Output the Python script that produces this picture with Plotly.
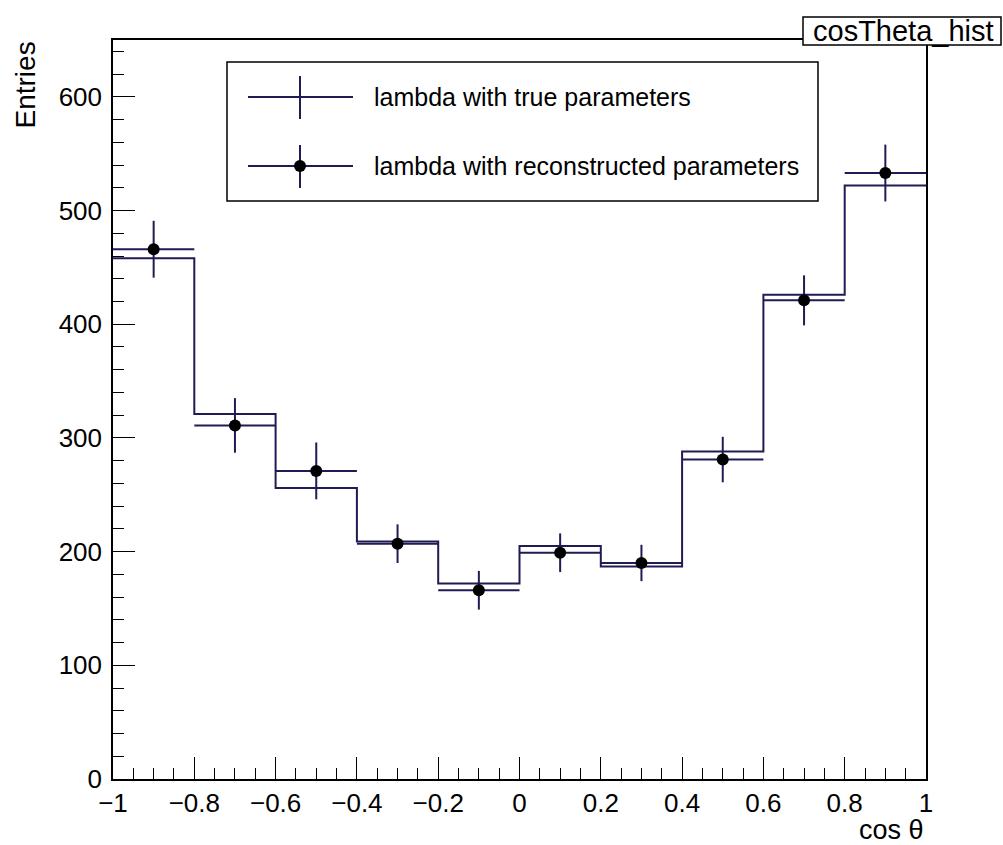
import plotly.graph_objects as go

# ---- data ----
bin_edges = [-1.0, -0.8, -0.6, -0.4, -0.2, 0.0, 0.2, 0.4, 0.6, 0.8, 1.0]
bin_centers = [-0.9, -0.7, -0.5, -0.3, -0.1, 0.1, 0.3, 0.5, 0.7, 0.9]
bin_half_widths = [0.1, 0.1, 0.1, 0.1, 0.1, 0.1, 0.1, 0.1, 0.1, 0.1]
true_counts = [458, 321, 256, 209, 172, 205, 187, 288, 426, 522]
reco_counts = [466, 311, 271, 207, 166, 199, 190, 281, 421, 533]
reco_errors = [25, 24, 25, 17, 17, 17, 16, 20, 22, 25]
legend_labels = ["lambda with true parameters", "lambda with reconstructed parameters"]
x_title = "cos θ"
y_title = "Entries"
hist_name = "cosTheta_hist"

NAVY = "#1f1b55"
FONT = "Liberation Sans, Arial, Helvetica, sans-serif"

W, H = 1003, 845
L, R, T, B = 113, 926, 40, 779  # plot-area pixel box


def px(xp):
    return (xp - L) / (R - L)


def py(yp):
    return (B - yp) / (B - T)


fig = go.Figure()

# true-parameter histogram drawn as a step line
fig.add_trace(go.Scatter(
    x=bin_edges,
    y=true_counts + [true_counts[-1]],
    mode="lines",
    line_shape="hv",
    line=dict(color=NAVY, width=2),
    name=legend_labels[0],
    hoverinfo="skip",
))

# reconstructed-parameter histogram: markers + error crosses
fig.add_trace(go.Scatter(
    x=bin_centers,
    y=reco_counts,
    mode="markers",
    marker=dict(color="black", size=12, symbol="circle"),
    error_x=dict(type="data", array=bin_half_widths, width=0, thickness=2, color=NAVY),
    error_y=dict(type="data", array=reco_errors, width=0, thickness=2, color=NAVY),
    name=legend_labels[1],
))

shapes = []
annotations = []

# legend box
shapes.append(dict(type="rect", xref="paper", yref="paper",
                   x0=px(227), x1=px(818), y0=py(201), y1=py(62),
                   line=dict(color="black", width=1.5), fillcolor="white", layer="above"))
for i, (row_y, top, bot) in enumerate([(97, 76, 119), (166, 145, 188)]):
    shapes.append(dict(type="line", xref="paper", yref="paper",
                       x0=px(248), x1=px(353), y0=py(row_y), y1=py(row_y),
                       line=dict(color=NAVY, width=2), layer="above"))
    shapes.append(dict(type="line", xref="paper", yref="paper",
                       x0=px(300), x1=px(300), y0=py(bot), y1=py(top),
                       line=dict(color=NAVY, width=2), layer="above"))
    annotations.append(dict(xref="paper", yref="paper", x=px(372), y=py(row_y),
                            xanchor="left", yanchor="middle", showarrow=False,
                            text=legend_labels[i], font=dict(family=FONT, size=25, color="black")))
# legend marker
shapes.append(dict(type="circle", xref="paper", yref="paper",
                   x0=px(294), x1=px(306), y0=py(172), y1=py(160),
                   line=dict(color="black", width=0), fillcolor="black", layer="above"))

# title box "cosTheta_hist"
shapes.append(dict(type="rect", xref="paper", yref="paper",
                   x0=px(803), x1=px(1001), y0=py(45), y1=py(17),
                   line=dict(color="black", width=1.5), fillcolor="white", layer="above"))
annotations.append(dict(xref="paper", yref="paper", x=px(903), y=py(31),
                        xanchor="center", yanchor="middle", showarrow=False,
                        text=hist_name, font=dict(family=FONT, size=29, color="black")))

# axis titles
annotations.append(dict(xref="paper", yref="paper", x=px(25), y=py(40),
                        xanchor="center", yanchor="top", showarrow=False, textangle=-90,
                        text=y_title, font=dict(family=FONT, size=28, color="black")))
annotations.append(dict(xref="paper", yref="paper", x=px(926), y=py(830),
                        xanchor="right", yanchor="middle", showarrow=False,
                        text=x_title, font=dict(family=FONT, size=27, color="black")))

axis_common = dict(
    showgrid=False, zeroline=False,
    showline=True, linecolor="black", linewidth=1.5, mirror=True,
    ticks="inside", tickcolor="black", tickwidth=1, ticklen=22,
    tickfont=dict(family=FONT, size=26, color="black"),
)

fig.update_layout(
    width=W, height=H,
    margin=dict(l=L, r=W - R, t=T, b=H - B, pad=0),
    paper_bgcolor="white", plot_bgcolor="white",
    showlegend=False,
    shapes=shapes,
    annotations=annotations,
    xaxis=dict(range=[-1, 1], tick0=-1, dtick=0.2,
               minor=dict(tick0=-1, dtick=0.05, ticks="inside", ticklen=11,
                          tickcolor="black", tickwidth=1, showgrid=False),
               ticklabelstandoff=0,
               **axis_common),
    yaxis=dict(range=[0, 650], tick0=0, dtick=100,
               minor=dict(tick0=0, dtick=20, ticks="inside", ticklen=11,
                          tickcolor="black", tickwidth=1, showgrid=False),
               ticklabelstandoff=4,
               **axis_common),
)

fig.write_html("out.html")
